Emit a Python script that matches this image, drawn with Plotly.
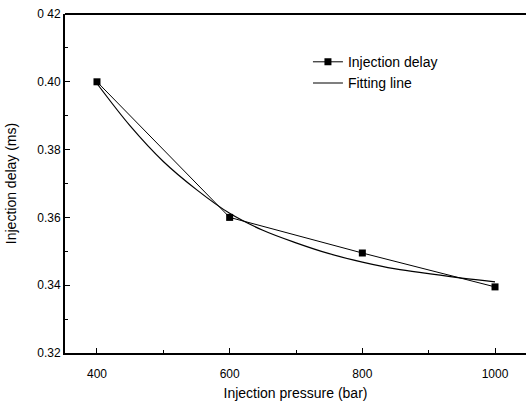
import plotly.graph_objects as go

# Measured data
pressure = [400, 600, 800, 1000]
delay = [0.400, 0.360, 0.3495, 0.3395]

# Fitting line
fit_pressure = [400, 450, 500, 550, 600, 650, 700, 750, 800, 850, 900, 950, 1000]
fit_delay = [0.3995, 0.3870, 0.3765, 0.3682, 0.3612, 0.3562, 0.3525, 0.3493,
             0.3468, 0.3448, 0.3434, 0.3421, 0.3410]

x_ticks = [400, 600, 800, 1000]
y_ticks = [0.32, 0.34, 0.36, 0.38, 0.40, 0.42]
y_tick_labels = ["0.32", "0.34", "0.36", "0.38", "0.40", "0 42"]

fig = go.Figure()
fig.add_trace(go.Scatter(
    x=pressure, y=delay, mode="lines+markers", name="Injection delay",
    line=dict(color="black", width=1),
    marker=dict(symbol="square", size=7, color="black"),
))
fig.add_trace(go.Scatter(
    x=fit_pressure, y=fit_delay, mode="lines", name="Fitting line",
    line=dict(color="black", width=1.2, shape="spline", smoothing=1.0),
))

font_family = "Liberation Sans, Arial, sans-serif"

fig.update_layout(
    width=526, height=403,
    margin=dict(l=65, r=0, t=14, b=50),
    paper_bgcolor="white", plot_bgcolor="white",
    font=dict(family=font_family, size=12, color="black"),
    showlegend=True,
    legend=dict(x=0.527, y=0.905, xanchor="left", yanchor="top",
                bgcolor="rgba(0,0,0,0)", font=dict(size=14),
                itemwidth=30, tracegroupgap=0),
    xaxis=dict(
        range=[351.8, 1046.7], tickvals=x_ticks, ticktext=[str(v) for v in x_ticks],
        showline=True, linecolor="black", linewidth=1.8, mirror=False,
        ticks="inside", ticklen=5, tickwidth=1, tickcolor="black",
        ticklabelstandoff=9,
        minor=dict(ticks="inside", ticklen=3, dtick=100, tick0=300, tickcolor="black",
                   showgrid=False),
        showgrid=False, zeroline=False,
        tickfont=dict(size=12),
        title=dict(text="Injection pressure (bar)", font=dict(size=14), standoff=8),
    ),
    yaxis=dict(
        range=[0.32, 0.42], tickvals=y_ticks, ticktext=y_tick_labels,
        showline=True, linecolor="black", linewidth=1.8, mirror=False,
        ticks="inside", ticklen=5, tickwidth=1, tickcolor="black",
        minor=dict(ticks="inside", ticklen=3, dtick=0.01, tick0=0.32, tickcolor="black",
                   showgrid=False),
        showgrid=False, zeroline=False,
        tickfont=dict(size=12),
        title=dict(text="Injection delay (ms)", font=dict(size=14), standoff=17),
    ),
    shapes=[dict(type="line", xref="paper", yref="paper", x0=0, x1=1, y0=1, y1=1,
                 line=dict(color="black", width=1.8))],
)

post = (
    "var s=document.createElement('style');"
    "s.textContent='html,body{margin:0;padding:0;overflow:hidden}"
    "::-webkit-scrollbar{display:none;width:0;height:0}';"
    "document.head.appendChild(s);"
)

fig.write_html("out.html", config={"displayModeBar": False}, post_script=post)
